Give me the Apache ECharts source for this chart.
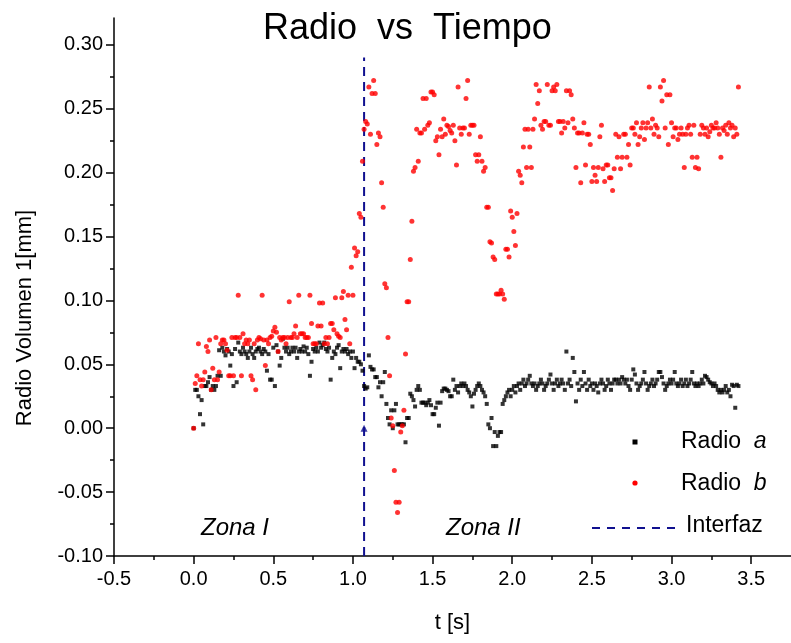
<!DOCTYPE html>
<html><head><meta charset="utf-8">
<script src="https://cdn.jsdelivr.net/npm/echarts@6/dist/echarts.min.js"></script>
<style>html,body{margin:0;padding:0;background:#fff}#c{width:791px;height:643px}</style>
</head><body><div id="c"></div>
<script>
// ---- data ----
const tiempo = [
0.00,0.01,0.02,0.03,0.04,0.05,0.06,0.07,0.08,0.09,
0.10,0.11,0.12,0.13,0.14,0.15,0.16,0.17,0.18,0.19,
0.20,0.21,0.22,0.23,0.24,0.25,0.26,0.27,0.28,0.29,
0.30,0.31,0.32,0.33,0.34,0.35,0.36,0.37,0.38,0.39,
0.40,0.41,0.42,0.43,0.44,0.45,0.46,0.47,0.48,0.49,
0.50,0.51,0.52,0.53,0.54,0.55,0.56,0.57,0.58,0.59,
0.60,0.61,0.62,0.63,0.64,0.65,0.66,0.67,0.68,0.69,
0.70,0.71,0.72,0.73,0.74,0.75,0.76,0.77,0.78,0.79,
0.80,0.81,0.82,0.83,0.84,0.85,0.86,0.87,0.88,0.89,
0.90,0.91,0.92,0.93,0.94,0.95,0.96,0.97,0.98,0.99,
1.00,1.01,1.02,1.03,1.04,1.05,1.06,1.07,1.08,1.09,
1.10,1.11,1.12,1.13,1.14,1.15,1.16,1.17,1.18,1.19,
1.20,1.21,1.22,1.23,1.24,1.25,1.26,1.27,1.28,1.29,
1.30,1.31,1.32,1.33,1.34,1.35,1.36,1.37,1.38,1.39,
1.40,1.41,1.42,1.43,1.44,1.45,1.46,1.47,1.48,1.49,
1.50,1.51,1.52,1.53,1.54,1.55,1.56,1.57,1.58,1.59,
1.60,1.61,1.62,1.63,1.64,1.65,1.66,1.67,1.68,1.69,
1.70,1.71,1.72,1.73,1.74,1.75,1.76,1.77,1.78,1.79,
1.80,1.81,1.82,1.83,1.84,1.85,1.86,1.87,1.88,1.89,
1.90,1.91,1.92,1.93,1.94,1.95,1.96,1.97,1.98,1.99,
2.00,2.01,2.02,2.03,2.04,2.05,2.06,2.07,2.08,2.09,
2.10,2.11,2.12,2.13,2.14,2.15,2.16,2.17,2.18,2.19,
2.20,2.21,2.22,2.23,2.24,2.25,2.26,2.27,2.28,2.29,
2.30,2.31,2.32,2.33,2.34,2.35,2.36,2.37,2.38,2.39,
2.40,2.41,2.42,2.43,2.44,2.45,2.46,2.47,2.48,2.49,
2.50,2.51,2.52,2.53,2.54,2.55,2.56,2.57,2.58,2.59,
2.60,2.61,2.62,2.63,2.64,2.65,2.66,2.67,2.68,2.69,
2.70,2.71,2.72,2.73,2.74,2.75,2.76,2.77,2.78,2.79,
2.80,2.81,2.82,2.83,2.84,2.85,2.86,2.87,2.88,2.89,
2.90,2.91,2.92,2.93,2.94,2.95,2.96,2.97,2.98,2.99,
3.00,3.01,3.02,3.03,3.04,3.05,3.06,3.07,3.08,3.09,
3.10,3.11,3.12,3.13,3.14,3.15,3.16,3.17,3.18,3.19,
3.20,3.21,3.22,3.23,3.24,3.25,3.26,3.27,3.28,3.29,
3.30,3.31,3.32,3.33,3.34,3.35,3.36,3.37,3.38,3.39,
3.40,3.41,3.42];

const radioA = [
0.000,0.030,0.030,0.025,0.011,0.022,0.003,0.033,0.033,0.036,
0.040,0.030,0.033,0.030,0.033,0.041,0.061,0.041,0.063,0.060,
0.057,0.062,0.060,0.049,0.058,0.033,0.062,0.036,0.067,0.060,
0.058,0.063,0.060,0.058,0.055,0.060,0.063,0.058,0.055,0.060,
0.062,0.063,0.060,0.058,0.062,0.060,0.045,0.058,0.038,0.038,
0.063,0.033,0.065,0.060,0.049,0.055,0.070,0.063,0.060,0.063,
0.058,0.060,0.063,0.060,0.063,0.055,0.060,0.062,0.060,0.064,
0.060,0.063,0.058,0.041,0.052,0.062,0.060,0.063,0.060,0.067,
0.063,0.065,0.067,0.062,0.060,0.063,0.038,0.055,0.060,0.058,
0.063,0.065,0.047,0.060,0.062,0.060,0.062,0.058,0.060,0.055,
0.060,0.047,0.055,0.052,0.052,0.050,0.045,0.033,0.031,0.032,
0.057,0.048,0.046,0.046,0.040,0.040,0.032,0.036,0.025,0.036,
0.044,0.019,0.008,0.003,0.014,0.000,0.014,0.019,0.003,0.003,
0.003,0.003,0.003,-0.011,0.008,0.008,0.027,0.025,0.022,0.017,
0.030,0.033,0.030,0.020,0.020,0.020,0.018,0.020,0.022,0.018,
0.011,0.011,0.016,0.020,0.002,0.020,0.029,0.031,0.031,0.030,
0.029,0.025,0.025,0.038,0.030,0.033,0.028,0.033,0.035,0.033,
0.035,0.033,0.030,0.028,0.025,0.017,0.027,0.030,0.033,0.035,
0.033,0.030,0.028,0.025,0.019,0.003,0.000,0.008,-0.014,-0.003,
-0.014,-0.006,-0.003,-0.003,0.019,0.022,0.025,0.028,0.030,0.025,
0.030,0.033,0.028,0.033,0.035,0.030,0.035,0.038,0.033,0.035,
0.038,0.041,0.035,0.033,0.035,0.030,0.033,0.035,0.038,0.035,
0.030,0.033,0.035,0.038,0.042,0.035,0.030,0.035,0.038,0.033,
0.035,0.038,0.035,0.030,0.060,0.035,0.038,0.033,0.055,0.044,
0.021,0.035,0.030,0.038,0.033,0.044,0.035,0.030,0.038,0.033,
0.035,0.030,0.035,0.033,0.028,0.035,0.038,0.035,0.030,0.033,
0.038,0.035,0.030,0.035,0.038,0.038,0.035,0.038,0.035,0.040,
0.038,0.035,0.038,0.033,0.030,0.038,0.046,0.042,0.035,0.030,
0.033,0.035,0.038,0.044,0.035,0.030,0.033,0.035,0.038,0.033,
0.035,0.038,0.044,0.044,0.040,0.035,0.030,0.033,0.035,0.038,
0.035,0.038,0.044,0.035,0.033,0.035,0.038,0.033,0.035,0.038,
0.033,0.035,0.038,0.044,0.035,0.033,0.035,0.033,0.035,0.038,
0.035,0.041,0.040,0.038,0.036,0.035,0.033,0.035,0.033,0.030,
0.028,0.030,0.028,0.030,0.033,0.028,0.030,0.025,0.034,0.033,
0.016,0.034,0.033];

const radioB = [
0.000,0.035,0.041,0.066,0.038,0.033,0.038,0.044,0.064,0.060,
0.069,0.030,0.047,0.038,0.071,0.038,0.044,0.066,0.069,0.069,
0.066,0.061,0.041,0.041,0.071,0.041,0.071,0.071,0.104,0.071,
0.041,0.074,0.066,0.069,0.066,0.069,0.041,0.038,0.066,0.030,
0.069,0.071,0.070,0.104,0.069,0.049,0.069,0.066,0.071,0.072,
0.076,0.079,0.075,0.060,0.071,0.069,0.071,0.071,0.066,0.071,
0.099,0.071,0.071,0.074,0.080,0.071,0.104,0.074,0.074,0.074,
0.071,0.071,0.071,0.104,0.082,0.066,0.066,0.066,0.080,0.098,
0.080,0.098,0.066,0.071,0.066,0.071,0.082,0.082,0.077,0.102,
0.074,0.072,0.071,0.102,0.107,0.085,0.077,0.104,0.066,0.126,
0.104,0.141,0.135,0.138,0.168,0.165,0.209,0.234,0.240,0.238,
0.267,0.230,0.262,0.272,0.262,0.222,0.231,0.228,0.192,0.173,
0.113,0.110,0.071,0.041,0.008,0.002,-0.033,-0.058,-0.066,-0.058,
-0.003,0.002,0.014,0.058,0.099,0.099,0.132,0.162,0.201,0.204,
0.234,0.209,0.231,0.231,0.258,0.234,0.258,0.237,0.239,0.263,
0.263,0.261,0.225,0.228,0.214,0.234,0.228,0.242,0.230,0.237,
0.236,0.233,0.231,0.237,0.225,0.206,0.267,0.235,0.230,0.235,
0.235,0.258,0.272,0.230,0.237,0.237,0.237,0.214,0.209,0.214,
0.228,0.209,0.201,0.204,0.173,0.173,0.146,0.145,0.134,0.132,
0.105,0.105,0.105,0.108,0.105,0.101,0.140,0.140,0.134,0.170,
0.165,0.154,0.143,0.168,0.201,0.198,0.192,0.220,0.234,0.204,
0.234,0.220,0.204,0.234,0.242,0.269,0.254,0.264,0.237,0.234,
0.240,0.240,0.269,0.237,0.237,0.264,0.267,0.264,0.269,0.240,
0.240,0.231,0.240,0.235,0.264,0.239,0.264,0.261,0.242,0.235,
0.204,0.231,0.231,0.192,0.231,0.239,0.206,0.230,0.230,0.222,
0.193,0.204,0.198,0.193,0.204,0.228,0.237,0.203,0.193,0.206,
0.206,0.196,0.196,0.186,0.203,0.230,0.212,0.228,0.203,0.212,
0.230,0.230,0.212,0.222,0.206,0.235,0.235,0.230,0.239,0.222,
0.228,0.235,0.239,0.226,0.235,0.239,0.267,0.235,0.242,0.230,
0.237,0.235,0.228,0.267,0.256,0.272,0.235,0.261,0.222,0.261,
0.239,0.228,0.235,0.235,0.226,0.230,0.235,0.230,0.204,0.230,
0.235,0.237,0.230,0.212,0.237,0.204,0.212,0.203,0.230,0.237,
0.235,0.230,0.235,0.228,0.232,0.237,0.235,0.235,0.239,0.235,
0.230,0.212,0.235,0.233,0.237,0.230,0.239,0.235,0.237,0.228,
0.235,0.230,0.267];

const interfazT = [1.07, 1.07];
const interfazV = [-0.10, 0.29];
const marcaT = [1.07];
const marcaV = [0.00];

const xTicks = [-0.5, 0.0, 0.5, 1.0, 1.5, 2.0, 2.5, 3.0, 3.5];
const xMinor = [-0.25, 0.25, 0.75, 1.25, 1.75, 2.25, 2.75, 3.25];
const yTicks = [-0.10, -0.05, 0.00, 0.05, 0.10, 0.15, 0.20, 0.25, 0.30];
const yMinor = [-0.075, -0.025, 0.025, 0.075, 0.125, 0.175, 0.225, 0.275];

const FONT = 'Liberation Sans, Arial, sans-serif';
const pairs = (xs, ys) => xs.map((x, i) => [x, ys[i]]);

const chart = echarts.init(document.getElementById('c'), null, {renderer: 'canvas'});
chart.setOption({
  animation: false,
  backgroundColor: '#fff',
  title: {
    text: 'Radio  vs  Tiempo', left: 258, top: 6,
    textStyle: {fontSize: 36, fontWeight: 'normal', color: '#000', fontFamily: FONT}
  },
  grid: {left: 114, top: 18, width: 677, height: 538, containLabel: false},
  xAxis: [
    {
      type: 'value', min: -0.5, max: 3.75, position: 'bottom', splitLine: {show: false},
      axisLine: {onZero: false, lineStyle: {color: '#000', width: 1.5}},
      axisTick: {customValues: xTicks, length: 8, lineStyle: {color: '#000', width: 1.5}},
      axisLabel: {customValues: xTicks, formatter: v => v.toFixed(1), fontSize: 20, color: '#000', margin: 13, fontFamily: FONT},
      name: 't [s]', nameLocation: 'middle', nameGap: 56,
      nameTextStyle: {fontSize: 22, color: '#000', fontFamily: FONT}
    },
    {
      type: 'value', min: -0.5, max: 3.75, position: 'bottom', splitLine: {show: false},
      axisLine: {show: false, onZero: false},
      axisTick: {customValues: xMinor, length: 4, lineStyle: {color: '#000', width: 1.5}},
      axisLabel: {show: false}
    }
  ],
  yAxis: [
    {
      type: 'value', min: -0.10, max: 0.321, position: 'left', splitLine: {show: false},
      axisLine: {onZero: false, lineStyle: {color: '#000', width: 1.5}},
      axisTick: {customValues: yTicks, length: 8, lineStyle: {color: '#000', width: 1.5}},
      axisLabel: {customValues: yTicks, formatter: v => v.toFixed(2), fontSize: 20, color: '#000', margin: 11, fontFamily: FONT}
    },
    {
      type: 'value', min: -0.10, max: 0.321, position: 'left', splitLine: {show: false},
      axisLine: {show: false, onZero: false},
      axisTick: {customValues: yMinor, length: 4, lineStyle: {color: '#000', width: 1.5}},
      axisLabel: {show: false}
    }
  ],
  series: [
    {
      name: 'Interfaz', type: 'line', data: pairs(interfazT, interfazV),
      symbol: 'none', lineStyle: {color: '#10108f', width: 2, type: [9, 6]}, z: 1
    },
    {
      name: 'marca', type: 'scatter', data: pairs(marcaT, marcaV),
      symbol: 'triangle', symbolSize: 7, itemStyle: {color: '#10108f'}, z: 1
    },
    {
      name: 'Radio a', type: 'scatter', data: pairs(tiempo, radioA),
      symbol: 'rect', symbolSize: 4, itemStyle: {color: '#000'}, z: 2
    },
    {
      name: 'Radio b', type: 'scatter', data: pairs(tiempo, radioB),
      symbol: 'circle', symbolSize: 5, itemStyle: {color: '#ff0000'}, z: 3
    }
  ],
  graphic: [
    {type: 'text', x: 25, y: 318, rotation: Math.PI / 2,
     style: {text: 'Radio Volumen 1[mm]', fontSize: 22, fontFamily: FONT, fill: '#000', align: 'center', verticalAlign: 'middle'}},
    {type: 'text', x: 201, y: 528,
     style: {text: 'Zona I', fontSize: 24, fontStyle: 'italic', fontFamily: FONT, fill: '#000', align: 'left', verticalAlign: 'middle'}},
    {type: 'text', x: 446, y: 528,
     style: {text: 'Zona II', fontSize: 24, fontStyle: 'italic', fontFamily: FONT, fill: '#000', align: 'left', verticalAlign: 'middle'}},
    {type: 'rect', shape: {x: 632.5, y: 439.5, width: 5, height: 5}, style: {fill: '#000'}},
    {type: 'text', x: 681, y: 442,
     style: {text: 'Radio  {i|a}', fontSize: 23, fontFamily: FONT, fill: '#000', align: 'left', verticalAlign: 'middle',
       rich: {i: {fontSize: 23, fontStyle: 'italic', fontFamily: FONT, fill: '#000'}}}},
    {type: 'circle', shape: {cx: 635, cy: 483, r: 2.6}, style: {fill: '#ff0000'}},
    {type: 'text', x: 681, y: 484,
     style: {text: 'Radio  {i|b}', fontSize: 23, fontFamily: FONT, fill: '#000', align: 'left', verticalAlign: 'middle',
       rich: {i: {fontSize: 23, fontStyle: 'italic', fontFamily: FONT, fill: '#000'}}}},
    {type: 'line', shape: {x1: 592, y1: 528, x2: 678, y2: 528}, style: {stroke: '#10108f', lineWidth: 2, lineDash: [8, 7]}},
    {type: 'text', x: 686, y: 526,
     style: {text: 'Interfaz', fontSize: 23, fontFamily: FONT, fill: '#000', align: 'left', verticalAlign: 'middle'}}
  ]
});
</script>
</body></html>
